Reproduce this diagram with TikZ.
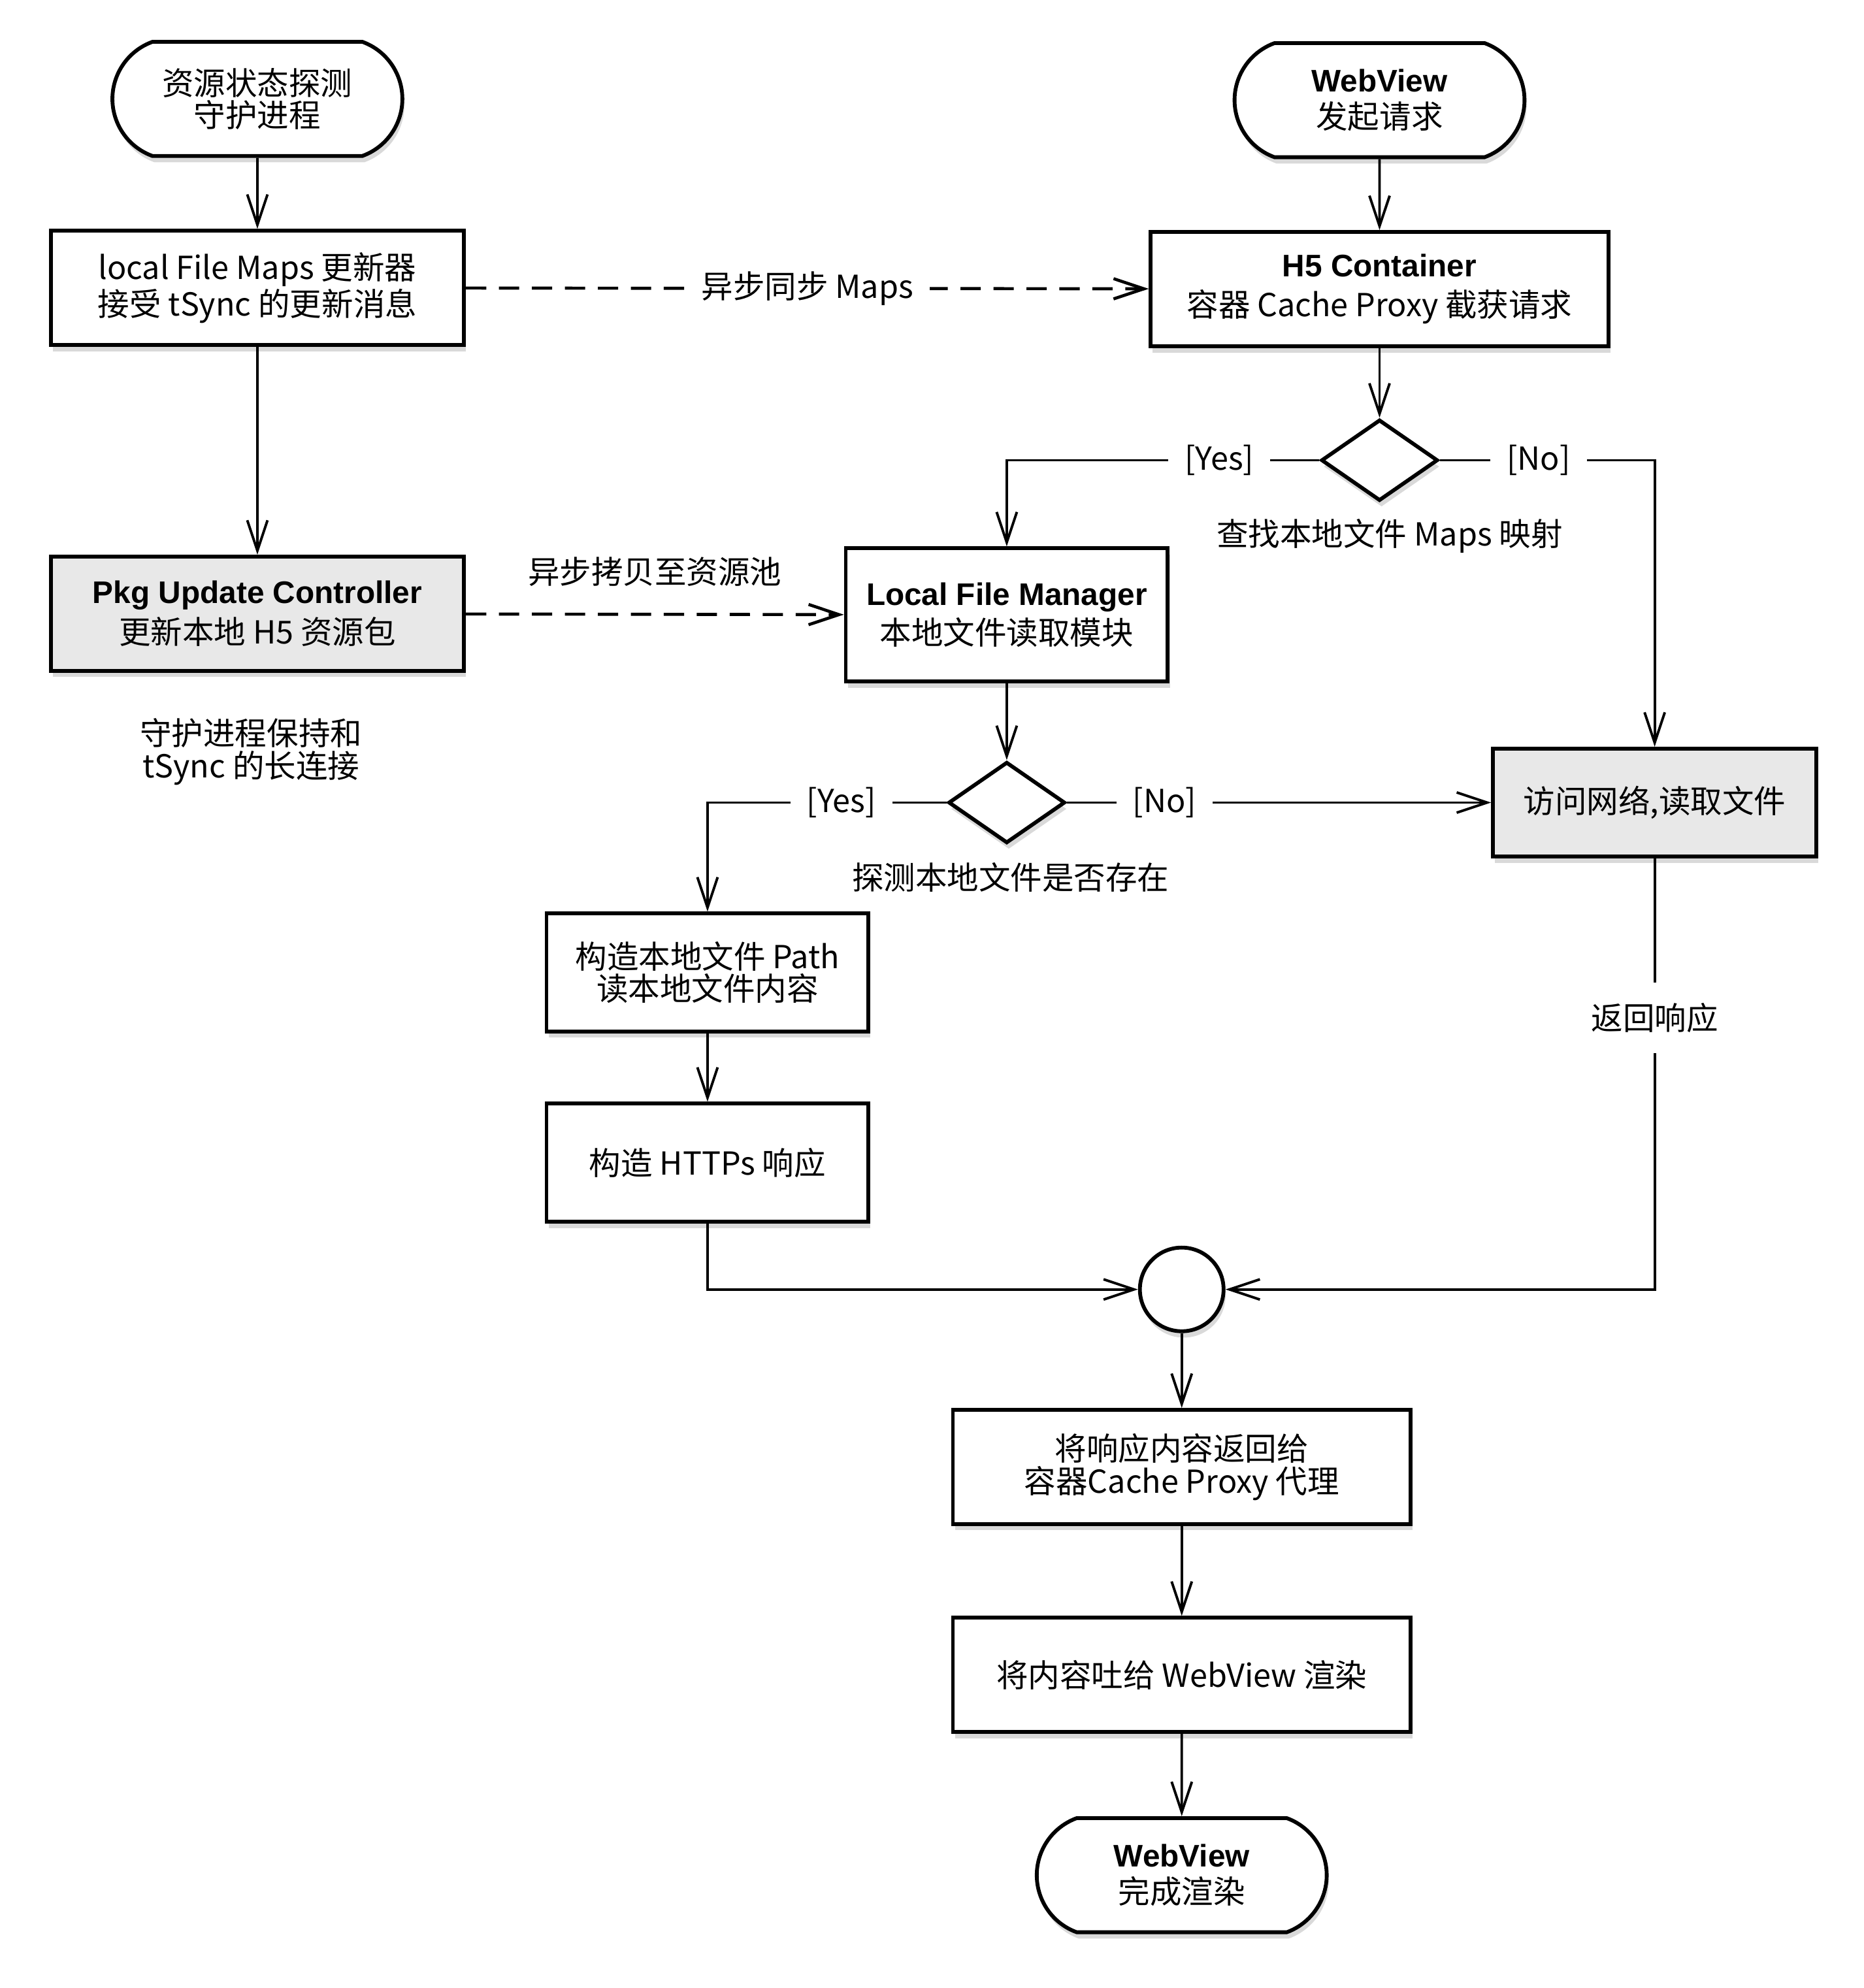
\documentclass[tikz,border=0pt]{standalone}
\usepackage{fontspec}
\setmainfont{Noto Sans CJK SC}
\newfontfamily\hvbold{Liberation Sans}
\usetikzlibrary{shapes.geometric,shapes.misc,arrows.meta,shadows}
\definecolor{boxgray}{RGB}{232,232,232}
\newcommand{\boxtitle}[1]{{\hvbold\bfseries\fontsize{12.3}{13}\selectfont #1}}

\begin{document}
\begin{tikzpicture}[x=0.5pt,y=-0.5pt,
  font=\fontsize{12.5}{12.8}\selectfont,
  every node/.style={align=center},
  boxshadow/.style={drop shadow={opacity=0.3,shadow xshift=0.8pt,shadow yshift=-2.5pt}},
  startstop/.style={rounded rectangle,rounded rectangle arc length=140,draw,line width=1.5pt,fill=white,boxshadow,minimum width=121pt,minimum height=45pt},
  proc/.style={rectangle,draw,line width=1.5pt,fill=white,boxshadow,minimum height=45pt},
  decide/.style={diamond,draw,line width=1.5pt,fill=white,boxshadow,minimum width=46pt,minimum height=32pt,inner sep=0pt},
  mergept/.style={circle,draw,line width=1.5pt,fill=white,boxshadow,minimum size=33pt,inner sep=0pt},
  arr/.style={-{Straight Barb[length=12pt,width=8pt]},line width=1pt},
  asyncline/.style={line width=1.2pt,dash pattern=on 8pt off 5pt},
  lbl/.style={fill=white,inner xsep=6.5pt,inner ysep=8pt}]
\useasboundingbox (0,0) rectangle (1470,1568);

%%%%%%%%% left column: daemon
\node[startstop] (guard) at (203,78) {资源状态探测\\守护进程};
\node[proc,minimum width=163pt] (mapsupd) at (203,227) {local File Maps 更新器\\接受 tSync 的更新消息};
\node[proc,fill=boxgray,minimum width=163pt] (pkg) at (203,484) {\boxtitle{Pkg Update Controller}\\[2pt]更新本地 H5 资源包};
\node (keepnote) at (198,593) {守护进程保持和\\tSync 的长连接};

%%%%%%%%% right column: webview request
\node[startstop] (webreq) at (1088,79) {\boxtitle{WebView}\\[1.5pt]发起请求};
\node[proc,minimum width=180.5pt] (h5) at (1088,228) {\boxtitle{H5 Container}\\[3pt]容器 Cache Proxy 截获请求};
\node[decide] (findmap) at (1088,363) {};
\node (findnote) at (1096,423) {查找本地文件 Maps 映射};
\node[proc,minimum width=127pt,minimum height=52.5pt] (lfm) at (794,485) {\boxtitle{Local File Manager}\\[1.5pt]本地文件读取模块};
\node[decide] (exists) at (794,633) {};
\node (existnote) at (797,692) {探测本地文件是否存在};
\node[proc,fill=boxgray,minimum width=127.5pt,minimum height=42.5pt] (net) at (1305,633) {访问网络,读取文件};
\node[proc,minimum width=127pt,minimum height=46.5pt] (mkpath) at (558,767) {构造本地文件 Path\\读本地文件内容};
\node[proc,minimum width=127pt,minimum height=46.5pt] (mkresp) at (558,917) {构造 HTTPs 响应};

%%%%%%%%% merge and render
\node[mergept] (merge) at (932,1017) {};
\node[proc,minimum width=180.5pt] (giveback) at (932,1157) {将响应内容返回给\\容器Cache Proxy 代理};
\node[proc,minimum width=180.5pt] (render) at (932,1321) {将内容吐给 WebView 渲染};
\node[startstop] (done) at (932,1479) {\boxtitle{WebView}\\[1.5pt]完成渲染};

%%%%%%%%% connectors
\draw[arr] (guard) -- (mapsupd);
\draw[arr,asyncline] (mapsupd) -- node[lbl]{异步同步 Maps} (h5);
\draw[arr] (mapsupd) -- (pkg);
\draw[arr,asyncline] (pkg) -- node[above=7pt]{异步拷贝至资源池} (lfm);
\draw[arr] (webreq) -- (h5);
\draw[arr] (h5) -- (findmap);
\draw[arr] (findmap.west) -| node[lbl,pos=0.16]{[Yes]} (lfm.north);
\draw[arr] (findmap.east) -| node[lbl,pos=0.23]{[No]} (net.north);
\draw[arr] (lfm) -- (exists);
\draw[arr] (exists.west) -| node[lbl,pos=0.22]{[Yes]} (mkpath.north);
\draw[arr] (exists) -- node[lbl,pos=0.23]{[No]} (net);
\draw[arr] (mkpath) -- (mkresp);
\draw[arr] (mkresp.south) |- (merge.west);
\draw[arr] (net.south) |- node[lbl,pos=0.185]{返回响应} (merge.east);
\draw[arr] (merge) -- (giveback);
\draw[arr] (giveback) -- (render);
\draw[arr] (render) -- (done);
\end{tikzpicture}
\end{document}
